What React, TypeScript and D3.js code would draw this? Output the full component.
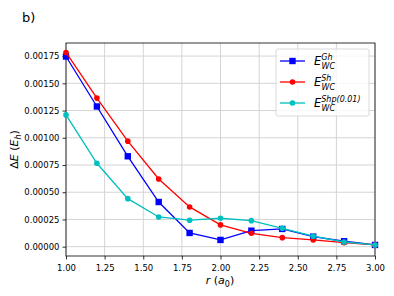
import React, { useEffect, useRef } from "react";
import * as d3 from "d3";

const radii = [1.0, 1.2, 1.4, 1.6, 1.8, 2.0, 2.2, 2.4, 2.6, 2.8, 3.0];
const ghValues = [0.001746, 0.001287, 0.00083, 0.00041, 0.000126, 0.000062, 0.000147, 0.000163, 0.000092, 0.00005, 0.000016];
const shValues = [0.001783, 0.001364, 0.000969, 0.000622, 0.000365, 0.0002, 0.000123, 0.000083, 0.000062, 0.000037, 0.000016];
const shpValues = [0.00121, 0.000766, 0.000441, 0.000273, 0.000243, 0.000261, 0.000239, 0.000169, 0.000096, 0.000043, 0.000016];
const xTicks = [1.0, 1.25, 1.5, 1.75, 2.0, 2.25, 2.5, 2.75, 3.0];
const yTicks = [0, 0.00025, 0.0005, 0.00075, 0.001, 0.00125, 0.0015, 0.00175];

const series = [
  { sup: "Gh", color: "#0000ff", values: ghValues, marker: "square" },
  { sup: "Sh", color: "#ff0000", values: shValues, marker: "circle" },
  { sup: "Shp(0.01)", color: "#00bfbf", values: shpValues, marker: "circle" },
];

const App = () => {
  const svgRef = useRef<SVGSVGElement>(null);

  useEffect(() => {
    const width = 394;
    const height = 296;
    const margin = { top: 43, right: 19, bottom: 40, left: 66 };
    const font = "DejaVu Sans, sans-serif";

    const svg = d3.select(svgRef.current);
    svg.selectAll("*").remove();
    svg.attr("width", width).attr("height", height);

    const x = d3.scaleLinear().domain([1, 3]).range([margin.left, width - margin.right]);
    const y = d3.scaleLinear().domain([-0.0000855, 0.00187]).range([height - margin.bottom, margin.top]);

    // grid
    const grid = svg.append("g");
    xTicks.forEach((t) => {
      grid.append("line").attr("x1", x(t)).attr("x2", x(t)).attr("y1", margin.top).attr("y2", height - margin.bottom)
        .attr("stroke", "#d4d4d4").attr("stroke-width", 1);
    });
    yTicks.forEach((t) => {
      grid.append("line").attr("x1", margin.left).attr("x2", width - margin.right).attr("y1", y(t)).attr("y2", y(t))
        .attr("stroke", "#d4d4d4").attr("stroke-width", 1);
    });

    // axes
    const xAxis = svg.append("g").attr("transform", `translate(0,${height - margin.bottom})`)
      .call(d3.axisBottom(x).tickValues(xTicks).tickFormat(d3.format(".2f")).tickSize(3.5).tickSizeOuter(0));
    const yAxis = svg.append("g").attr("transform", `translate(${margin.left},0)`)
      .call(d3.axisLeft(y).tickValues(yTicks).tickFormat(d3.format(".5f")).tickSize(3.5).tickSizeOuter(0));
    [xAxis, yAxis].forEach((a) => {
      a.select(".domain").remove();
      a.selectAll("text").attr("font-family", font).attr("font-size", 8.5).attr("fill", "#000");
      a.selectAll("line").attr("stroke", "#000").attr("stroke-width", 0.8);
    });
    xAxis.selectAll("text").attr("dy", "0.95em");

    // frame
    svg.append("rect").attr("x", margin.left).attr("y", margin.top)
      .attr("width", width - margin.left - margin.right).attr("height", height - margin.top - margin.bottom)
      .attr("fill", "none").attr("stroke", "#000").attr("stroke-width", 0.8);

    const line = d3.line<number>().x((_, i) => x(radii[i])).y((d) => y(d));

    const drawMarker = (g: any, marker: string, color: string, cx: number, cy: number) => {
      if (marker === "square") {
        g.append("rect").attr("x", cx - 3.2).attr("y", cy - 3.2).attr("width", 6.4).attr("height", 6.4).attr("fill", color);
      } else {
        g.append("circle").attr("cx", cx).attr("cy", cy).attr("r", 2.8).attr("fill", color);
      }
    };

    const plot = svg.append("g");
    series.forEach((s) => {
      plot.append("path").datum(s.values).attr("d", line).attr("fill", "none").attr("stroke", s.color).attr("stroke-width", 1.3);
      s.values.forEach((v, i) => drawMarker(plot, s.marker, s.color, x(radii[i]), y(v)));
    });

    // legend
    const legend = svg.append("g");
    legend.append("rect").attr("x", 276).attr("y", 49).attr("width", 93).attr("height", 67).attr("rx", 2)
      .attr("fill", "#fff").attr("fill-opacity", 0.8).attr("stroke", "#d0d0d0").attr("stroke-width", 0.8);
    series.forEach((s, i) => {
      const ly = 61 + i * 21;
      legend.append("line").attr("x1", 280).attr("x2", 305).attr("y1", ly).attr("y2", ly).attr("stroke", s.color).attr("stroke-width", 1.3);
      drawMarker(legend, s.marker, s.color, 292.5, ly);
      const t = legend.append("text").attr("x", 314).attr("y", ly + 4).attr("font-family", font).attr("font-size", 11.5).attr("font-style", "italic");
      t.append("tspan").text("E");
      t.append("tspan").attr("font-size", 8).attr("dy", -5).text(s.sup);
      t.append("tspan").attr("font-size", 8).attr("x", 321.5).attr("dy", 9).text("WC");
    });

    // labels
    svg.append("text").attr("x", 22).attr("y", 21.5).attr("font-family", font).attr("font-size", 13).text("b)");

    const xl = svg.append("text").attr("x", 220).attr("y", 284).attr("text-anchor", "middle").attr("font-family", font).attr("font-size", 11);
    xl.append("tspan").attr("font-style", "italic").text("r");
    xl.append("tspan").text(" (");
    xl.append("tspan").attr("font-style", "italic").text("a");
    xl.append("tspan").attr("font-size", 8).attr("dy", 3).text("0");
    xl.append("tspan").attr("dy", -3).text(")");

    const yl = svg.append("text").attr("transform", `translate(18,${(margin.top + height - margin.bottom) / 2}) rotate(-90)`)
      .attr("text-anchor", "middle").attr("font-family", font).attr("font-size", 11);
    yl.append("tspan").text("Δ");
    yl.append("tspan").attr("font-style", "italic").text("E");
    yl.append("tspan").text(" (");
    yl.append("tspan").attr("font-style", "italic").text("E");
    yl.append("tspan").attr("font-style", "italic").attr("font-size", 8).attr("dy", 3).text("h");
    yl.append("tspan").attr("dy", -3).text(")");
  }, []);

  return <svg ref={svgRef} style={{ position: "absolute", left: 0, top: 0 }}></svg>;
};

export default App;
